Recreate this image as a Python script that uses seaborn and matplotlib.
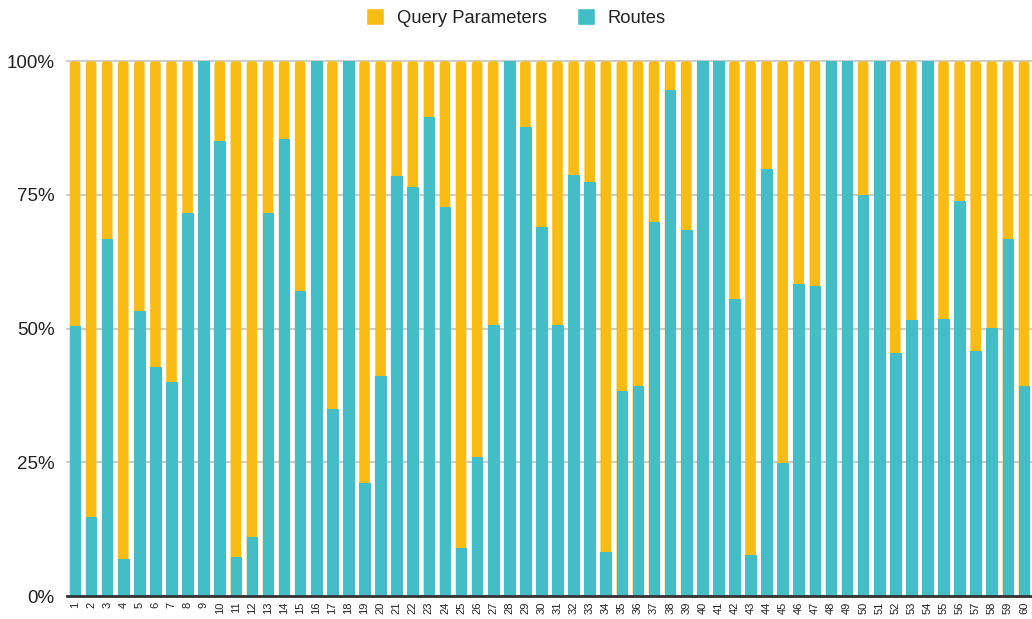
import pandas as pd
import numpy as np
import matplotlib.pyplot as plt
import seaborn as sns
from matplotlib.ticker import PercentFormatter
from matplotlib.patches import Patch, FancyBboxPatch

# ---- data (share of each item, in %) ----
items = [str(i) for i in range(1, 61)]
routes = [50.5, 14.8, 66.7, 7.0, 53.3, 42.9, 40.1, 71.6, 100, 85.1,
          7.3, 11.0, 71.6, 85.4, 57.1, 100, 35.0, 100, 21.1, 41.1,
          78.6, 76.5, 89.5, 72.7, 9.0, 26.0, 50.7, 100, 87.7, 69.0,
          50.7, 78.8, 77.4, 8.2, 38.4, 39.2, 69.9, 94.6, 68.5, 100,
          100, 55.6, 7.6, 79.9, 24.9, 58.4, 57.9, 100, 100, 75.0,
          100, 45.5, 51.6, 100, 51.8, 73.9, 45.8, 50.1, 66.7, 39.2]
query_params = [49.5, 85.2, 33.3, 93.0, 46.7, 57.1, 59.9, 28.4, 0, 14.9,
                92.7, 89.0, 28.4, 14.6, 42.9, 0, 65.0, 0, 78.9, 58.9,
                21.4, 23.5, 10.5, 27.3, 91.0, 74.0, 49.3, 0, 12.3, 31.0,
                49.3, 21.2, 22.6, 91.8, 61.6, 60.8, 30.1, 5.4, 31.5, 0,
                0, 44.4, 92.4, 20.1, 75.1, 41.6, 42.1, 0, 0, 25.0,
                0, 54.5, 48.4, 0, 48.2, 26.1, 54.2, 49.9, 33.3, 60.8]

YELLOW = "#F9BC15"
TEAL = "#43BDC6"

df = pd.DataFrame({"item": items, "Routes": routes, "Query Parameters": query_params})
df["top"] = (df["Routes"] + df["Query Parameters"]) / 100
df["Routes"] = df["Routes"] / 100

sns.set_style("white")
plt.rcParams['font.family'] = ['Liberation Sans', 'DejaVu Sans']

fig = plt.figure(figsize=(10.32, 6.19), dpi=100)
ax = fig.add_axes([0.0649, 0.037, 0.9351, 0.864])

sns.barplot(data=df, x="item", y="top", color=YELLOW, width=0.66,
            saturation=1, linewidth=0, ax=ax, zorder=3)
n_yellow = len(ax.patches)

# round the top corners of the yellow (stack top) bars
for p in list(ax.patches[:n_yellow]):
    x, w, h = p.get_x(), p.get_width(), p.get_height()
    p.remove()
    ax.add_patch(FancyBboxPatch((x, 0), w, h,
                                boxstyle="round,pad=0,rounding_size=0.2",
                                mutation_aspect=0.03, facecolor=YELLOW,
                                linewidth=0, zorder=3))

sns.barplot(data=df, x="item", y="Routes", color=TEAL, width=0.66,
            saturation=1, linewidth=0.8, edgecolor=TEAL, ax=ax, zorder=4)

ax.set_ylim(0, 1.0)
ax.set_xlim(-0.5, len(items) - 0.5)
ax.set_yticks([0, 0.25, 0.5, 0.75, 1.0])
ax.yaxis.set_major_formatter(PercentFormatter(1.0, decimals=0))
ax.grid(axis='y', color='#cccccc', linewidth=1.5, zorder=0)
for gl in ax.get_ygridlines():
    gl.set_clip_on(False)
ax.set_axisbelow(True)
ax.set_xlabel("")
ax.set_ylabel("")
sns.despine(ax=ax, left=True, top=True, right=True, bottom=False)
ax.spines['bottom'].set_color('#333333')
ax.spines['bottom'].set_linewidth(2)
ax.spines['bottom'].set_zorder(5)
ax.tick_params(axis='y', length=0, labelsize=13.5, pad=9, labelcolor='#222222')
ax.tick_params(axis='x', length=0, labelsize=8, rotation=90, pad=4, labelcolor='#222222')

handles = [Patch(facecolor=YELLOW, label="Query Parameters"),
           Patch(facecolor=TEAL, label="Routes")]
fig.legend(handles=handles, loc='upper center', bbox_to_anchor=(0.5, 1.013),
           ncol=2, frameon=False, fontsize=13.2, handlelength=1.0,
           handleheight=1.0, handletextpad=0.7, columnspacing=1.6,
           labelcolor='#222222')

fig.savefig("out.png", dpi=100)
